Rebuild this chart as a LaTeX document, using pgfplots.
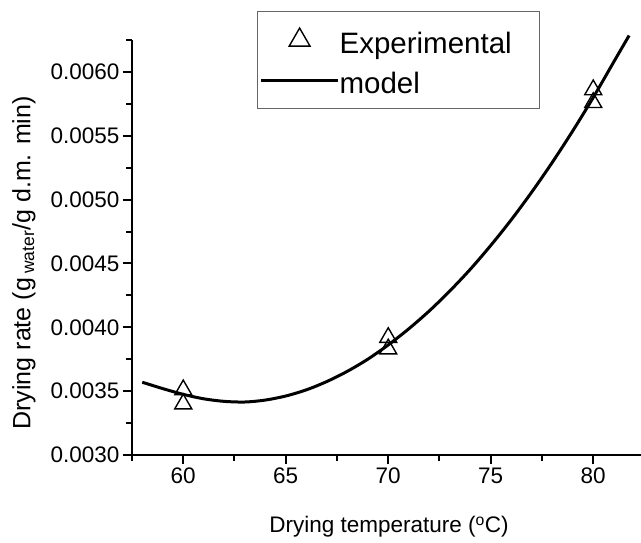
\documentclass[border=0pt]{standalone}
\usepackage{fontspec}
\setmainfont{Liberation Sans}
\usepackage{pgfplots}
\pgfplotsset{compat=1.18}
\begin{document}
\begin{tikzpicture}[x=1pt,y=1pt]
\useasboundingbox (0,0) rectangle (641,542);
\begin{axis}[
  scale only axis,
  width=509pt, height=415pt,
  at={(132pt,87pt)}, anchor=south west,
  xmin=57.5, xmax=82.33,
  ymin=0.0030, ymax=0.00625,
  axis x line*=bottom, axis y line*=left,
  axis line style={line width=2.4pt, -},
  xtick={60,65,...,80},
  minor xtick={57.5,62.5,...,82.5},
  ytick={0.0030,0.0035,...,0.0061},
  minor ytick={0.00325,0.00375,...,0.00626},
  tick align=outside,
  major tick length=9pt, minor tick length=5.5pt,
  every tick/.style={line width=2pt, black},
  scaled y ticks=false,
  yticklabel style={/pgf/number format/.cd, fixed, fixed zerofill, precision=4, assume math mode=true},
  xticklabel style={/pgf/number format/assume math mode=true},
  tick label style={font=\fontsize{22.5}{26}\selectfont},
  xlabel={Drying temperature (\textsuperscript{o}C)},
  xlabel style={font=\fontsize{22.5}{26}\selectfont, at={(axis description cs:0.505,0)}, anchor=center, yshift=-72pt},
  ylabel={Drying rate (g\,\textsubscript{water}/g d.m. min)},
  ylabel style={font=\fontsize{25}{29}\selectfont, at={(axis description cs:-0.2122,0.463)}, anchor=center},
  clip=false,
  legend cell align=left,
  legend style={at={(rel axis cs:0.2456,1.0699)}, anchor=north west,
    draw=black!60, line width=1.2pt, font=\fontsize{29.5}{33}\selectfont,
    inner xsep=2pt, inner ysep=8pt, row sep=-1pt,
    nodes={inner sep=0pt, text height=34pt, text depth=7pt},
    /tikz/every even column/.append style={column sep=12pt}},
]
\addplot[only marks, mark=triangle, mark size=9.8pt, mark options={line width=1.4pt, fill=white}, black,
  legend image code/.code={\draw[line width=1.4pt] plot[mark=triangle, mark size=12pt] coordinates {(38.5pt,0pt)}; \path[draw=none] (0,0) -- (77pt,0);}]
  coordinates {(60,0.00351) (60,0.00340) (70,0.00392) (70,0.00383) (80,0.00586) (80,0.00576)};
\addlegendentry{Experimental\rule{26pt}{0pt}}
\addplot[black, line width=3pt, smooth,
  legend image code/.code={\draw[line width=3pt] (0pt,0pt) -- (77pt,0pt);}]
  coordinates {
(58,0.003570) (59,0.003520) (60,0.003475) (61,0.003440) (62,0.003420) (63,0.003415)
(64,0.003430) (65,0.003462) (66,0.003510) (67,0.003575) (68,0.003655) (69,0.003750)
(70,0.003862) (71,0.003988) (72,0.004128) (73,0.004284) (74,0.004454) (75,0.004641)
(76,0.004842) (77,0.005059) (78,0.005291) (79,0.005538) (80,0.005800) (81,0.006078)
(81.75,0.006285)};
\addlegendentry{model}
\end{axis}
\end{tikzpicture}
\end{document}
